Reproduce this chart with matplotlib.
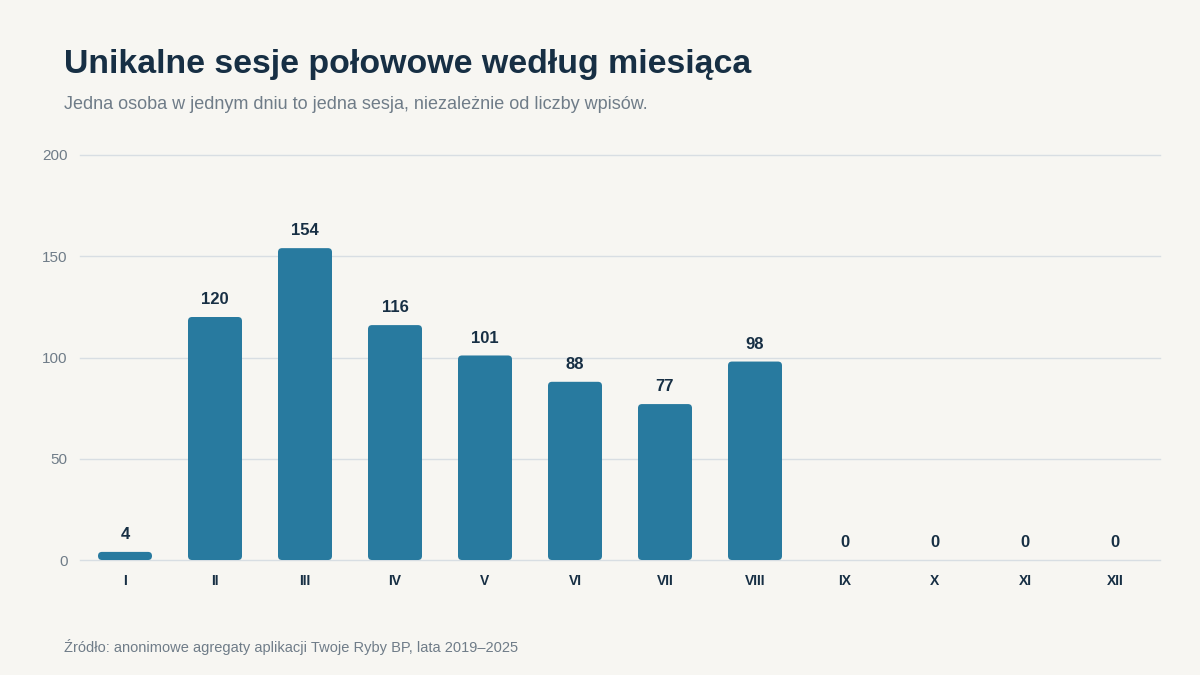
import matplotlib
matplotlib.use("Agg")
import matplotlib.pyplot as plt
from matplotlib.patches import FancyBboxPatch

months = ["I", "II", "III", "IV", "V", "VI", "VII", "VIII", "IX", "X", "XI", "XII"]
sessions = [4, 120, 154, 116, 101, 88, 77, 98, 0, 0, 0, 0]
y_ticks = [0, 50, 100, 150, 200]

title = "Unikalne sesje połowowe według miesiąca"
subtitle = "Jedna osoba w jednym dniu to jedna sesja, niezależnie od liczby wpisów."
source = "Źródło: anonimowe agregaty aplikacji Twoje Ryby BP, lata 2019–2025"

bg = "#f7f6f2"
bar_color = "#287a9f"
dark = "#172f44"
grey = "#6f7c88"
grid_color = "#d8dee3"

plt.rcParams["font.family"] = ["Liberation Sans", "DejaVu Sans"]

fig = plt.figure(figsize=(12, 6.75), dpi=100, facecolor=bg)
ax = fig.add_axes([80 / 1200, 1 - 560 / 675, 0.9, 0.6])
ax.set_facecolor(bg)

bar_w = 0.6
ax.set_xlim(-0.5, len(months) - 0.5)
ax.set_ylim(0, 200)

# rounded corners: 4px radius, aspect corrects y vs x units
px_x = 1080 / 12
px_y = 405 / 200
aspect = px_x / px_y
r = 4 / px_x
for i, v in enumerate(sessions):
    if v > 0:
        p = FancyBboxPatch((i - bar_w / 2, 0), bar_w, v,
                           boxstyle=f"round,pad=0,rounding_size={r}",
                           mutation_aspect=aspect, facecolor=bar_color,
                           edgecolor="none", zorder=3, clip_on=False)
        ax.add_patch(p)
    ax.annotate(str(v), (i, v), xytext=(0, 7), textcoords="offset points",
                ha="center", va="bottom", fontsize=12, fontweight="bold",
                color=dark, zorder=4)

for t in y_ticks:
    ax.axhline(t, color=grid_color, linewidth=1, zorder=0, clip_on=False)

ax.set_yticks(y_ticks)
ax.set_yticklabels([str(t) for t in y_ticks])
ax.set_xticks(range(len(months)))
ax.set_xticklabels(months)
for s in ax.spines.values():
    s.set_visible(False)
ax.tick_params(axis="y", length=0, pad=9, labelsize=11, labelcolor=grey)
ax.tick_params(axis="x", length=0, pad=10, labelsize=10, labelcolor=dark)
for lab in ax.get_xticklabels():
    lab.set_fontweight("bold")

fig.text(64 / 1200, 1 - 73 / 675, title, fontsize=24.4, fontweight="bold",
         color=dark, ha="left", va="baseline")
fig.text(64 / 1200, 1 - 109 / 675, subtitle, fontsize=13, color=grey,
         ha="left", va="baseline")
fig.text(64 / 1200, 1 - 652 / 675, source, fontsize=10.5, color=grey,
         ha="left", va="baseline")

fig.savefig("out.png", dpi=100, facecolor=bg)
